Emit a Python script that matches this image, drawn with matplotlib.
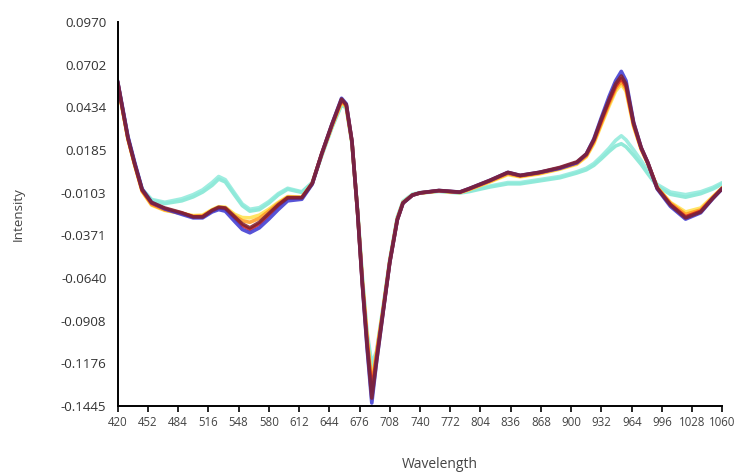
import matplotlib
matplotlib.use('Agg')
import matplotlib.pyplot as plt
import numpy as np

plt.rcParams['font.family'] = ['Open Sans', 'DejaVu Sans']

# wavelength grid (nm) the curves were read on
wavelength = [420, 426, 431, 438, 446, 456, 470, 488, 500, 510, 520, 527, 534, 544,
              552, 560, 570, 580, 590, 600, 615, 626, 636, 647, 657, 662, 668, 674,
              679, 684, 689, 694, 701, 708, 716, 722, 732, 740, 760, 782, 792, 814,
              833, 846, 866, 888, 906, 916, 924, 932, 940, 947, 953, 958, 966, 974,
              981, 991, 1005, 1021, 1037, 1050, 1060]

blue = [0.0600, 0.0410, 0.0250, 0.0090, -0.0080, -0.0165, -0.0205, -0.0240, -0.0262, -0.0262,
        -0.0225, -0.0210, -0.0220, -0.0285, -0.0335, -0.0356, -0.0325, -0.0270, -0.0210, -0.0155,
        -0.0145, -0.0050, 0.0140, 0.0330, 0.0490, 0.0455, 0.0220, -0.0230, -0.0680, -0.1080,
        -0.1426, -0.1170, -0.0855, -0.0545, -0.0275, -0.0170, -0.0120, -0.0105, -0.0090, -0.0100,
        -0.0078, -0.0026, 0.0024, 0.0005, 0.0024, 0.0050, 0.0085, 0.0140, 0.0235, 0.0370,
        0.0500, 0.0600, 0.0659, 0.0600, 0.0340, 0.0180, 0.0086, -0.0080, -0.0190, -0.0270,
        -0.0230, -0.0140, -0.0078]

dark_red = [0.0597, 0.0400, 0.0240, 0.0080, -0.0085, -0.0165, -0.0200, -0.0230, -0.0256, -0.0256,
            -0.0215, -0.0195, -0.0200, -0.0256, -0.0300, -0.0325, -0.0290, -0.0235, -0.0180, -0.0135,
            -0.0135, -0.0045, 0.0142, 0.0329, 0.0485, 0.0450, 0.0220, -0.0231, -0.0680, -0.1065,
            -0.1395, -0.1165, -0.0854, -0.0543, -0.0275, -0.0169, -0.0119, -0.0105, -0.0090, -0.0100,
            -0.0078, -0.0026, 0.0024, 0.0005, 0.0024, 0.0055, 0.0090, 0.0140, 0.0230, 0.0360,
            0.0480, 0.0580, 0.0630, 0.0580, 0.0335, 0.0180, 0.0086, -0.0076, -0.0181, -0.0262,
            -0.0225, -0.0138, -0.0076]

red = [0.0595, 0.0400, 0.0240, 0.0080, -0.0088, -0.0170, -0.0205, -0.0232, -0.0255, -0.0255,
       -0.0218, -0.0200, -0.0205, -0.0262, -0.0310, -0.0335, -0.0300, -0.0243, -0.0185, -0.0138,
       -0.0136, -0.0046, 0.0140, 0.0325, 0.0480, 0.0448, 0.0220, -0.0230, -0.0670, -0.1040,
       -0.1350, -0.1140, -0.0845, -0.0540, -0.0272, -0.0168, -0.0119, -0.0105, -0.0091, -0.0101,
       -0.0080, -0.0028, 0.0022, 0.0003, 0.0022, 0.0052, 0.0086, 0.0135, 0.0225, 0.0350,
       0.0470, 0.0565, 0.0615, 0.0565, 0.0328, 0.0176, 0.0084, -0.0075, -0.0178, -0.0255,
       -0.0220, -0.0136, -0.0075]

orange = [0.0590, 0.0395, 0.0235, 0.0075, -0.0093, -0.0178, -0.0212, -0.0235, -0.0252, -0.0250,
          -0.0215, -0.0198, -0.0200, -0.0250, -0.0280, -0.0290, -0.0265, -0.0220, -0.0172, -0.0132,
          -0.0134, -0.0046, 0.0138, 0.0320, 0.0470, 0.0440, 0.0215, -0.0228, -0.0660, -0.1020,
          -0.1320, -0.1120, -0.0840, -0.0538, -0.0270, -0.0167, -0.0119, -0.0106, -0.0092, -0.0102,
          -0.0082, -0.0032, 0.0016, 0.0000, 0.0018, 0.0048, 0.0080, 0.0128, 0.0215, 0.0335,
          0.0455, 0.0550, 0.0595, 0.0550, 0.0320, 0.0172, 0.0082, -0.0072, -0.0170, -0.0240,
          -0.0212, -0.0132, -0.0074]

yellow = [0.0588, 0.0392, 0.0232, 0.0072, -0.0096, -0.0182, -0.0215, -0.0234, -0.0248, -0.0245,
          -0.0210, -0.0192, -0.0195, -0.0240, -0.0260, -0.0262, -0.0245, -0.0208, -0.0165, -0.0128,
          -0.0132, -0.0046, 0.0136, 0.0318, 0.0465, 0.0435, 0.0212, -0.0226, -0.0655, -0.1010,
          -0.1300, -0.1110, -0.0835, -0.0536, -0.0268, -0.0166, -0.0119, -0.0106, -0.0093, -0.0103,
          -0.0085, -0.0036, 0.0010, -0.0004, 0.0014, 0.0044, 0.0075, 0.0122, 0.0205, 0.0325,
          0.0440, 0.0535, 0.0578, 0.0535, 0.0312, 0.0168, 0.0080, -0.0070, -0.0165, -0.0225,
          -0.0200, -0.0128, -0.0072]

cyan_low = [0.0590, 0.0400, 0.0240, 0.0080, -0.0085, -0.0152, -0.0172, -0.0155, -0.0130, -0.0100,
            -0.0058, -0.0018, -0.0036, -0.0120, -0.0185, -0.0220, -0.0210, -0.0170, -0.0118, -0.0082,
            -0.0102, -0.0042, 0.0128, 0.0308, 0.0448, 0.0428, 0.0208, -0.0220, -0.0640, -0.1000,
            -0.1209, -0.1120, -0.0830, -0.0530, -0.0262, -0.0162, -0.0116, -0.0106, -0.0096, -0.0106,
            -0.0097, -0.0068, -0.0048, -0.0048, -0.0030, -0.0010, 0.0020, 0.0040, 0.0068, 0.0110,
            0.0155, 0.0190, 0.0204, 0.0185, 0.0132, 0.0074, 0.0016, -0.0064, -0.0114, -0.0132,
            -0.0110, -0.0080, -0.0048]

cyan_high = [0.0592, 0.0402, 0.0242, 0.0082, -0.0082, -0.0146, -0.0164, -0.0142, -0.0116, -0.0086,
             -0.0040, -0.0002, -0.0022, -0.0108, -0.0175, -0.0208, -0.0198, -0.0160, -0.0110, -0.0076,
             -0.0098, -0.0040, 0.0132, 0.0312, 0.0452, 0.0432, 0.0212, -0.0216, -0.0630, -0.0980,
             -0.1180, -0.1100, -0.0820, -0.0525, -0.0258, -0.0158, -0.0113, -0.0103, -0.0093, -0.0103,
             -0.0092, -0.0062, -0.0040, -0.0040, -0.0022, -0.0002, 0.0028, 0.0050, 0.0080, 0.0125,
             0.0175, 0.0225, 0.0254, 0.0228, 0.0165, 0.0098, 0.0034, -0.0052, -0.0100, -0.0116,
             -0.0098, -0.0070, -0.0040]

series = [
    (cyan_low, '#7fe6d2'),
    (cyan_high, '#8eeadb'),
    (yellow, '#ffe04a'),
    (orange, '#ff9a1f'),
    (red, '#d42020'),
    (blue, '#3a35d0'),
    (dark_red, '#7e1f2e'),
]

ytick_labels = ['-0.1445', '-0.1176', '-0.0908', '-0.0640', '-0.0371',
                '-0.0103', '0.0185', '0.0434', '0.0702', '0.0970']
xticks = list(range(420, 1061, 32))

fig = plt.figure(figsize=(7.44, 4.76), dpi=100)
ax = fig.add_axes([0.158, 0.147, 0.813, 0.807])

for vals, col in series:
    ax.plot(wavelength, vals, color=col, linewidth=2.6, alpha=0.85,
            solid_capstyle='round', solid_joinstyle='round')

ax.set_xlim(420, 1060)
ax.set_ylim(-0.1445, 0.0970)
ax.set_xticks(xticks)
ax.set_xticklabels([str(t) for t in xticks], fontsize=8.3, color='#444444')
ax.set_yticks(np.linspace(-0.1445, 0.0970, len(ytick_labels)))
ax.set_yticklabels(ytick_labels, fontsize=9.6, color='#333333')
ax.tick_params(axis='y', length=0, pad=8)
ax.tick_params(axis='x', length=4, width=1.2, direction='out', pad=3)

for s in ['top', 'right']:
    ax.spines[s].set_visible(False)
for s in ['left', 'bottom']:
    ax.spines[s].set_linewidth(1.4)
    ax.spines[s].set_color('black')

ax.set_ylabel('Intensity', fontsize=9.6, color='#444444')
ax.yaxis.set_label_coords(-0.153, 0.5)
ax.set_xlabel('Wavelength', fontsize=10, color='#444444', va='center')
ax.xaxis.set_label_coords(0.532, -0.153)

fig.savefig('out.png', dpi=100, facecolor='white')
